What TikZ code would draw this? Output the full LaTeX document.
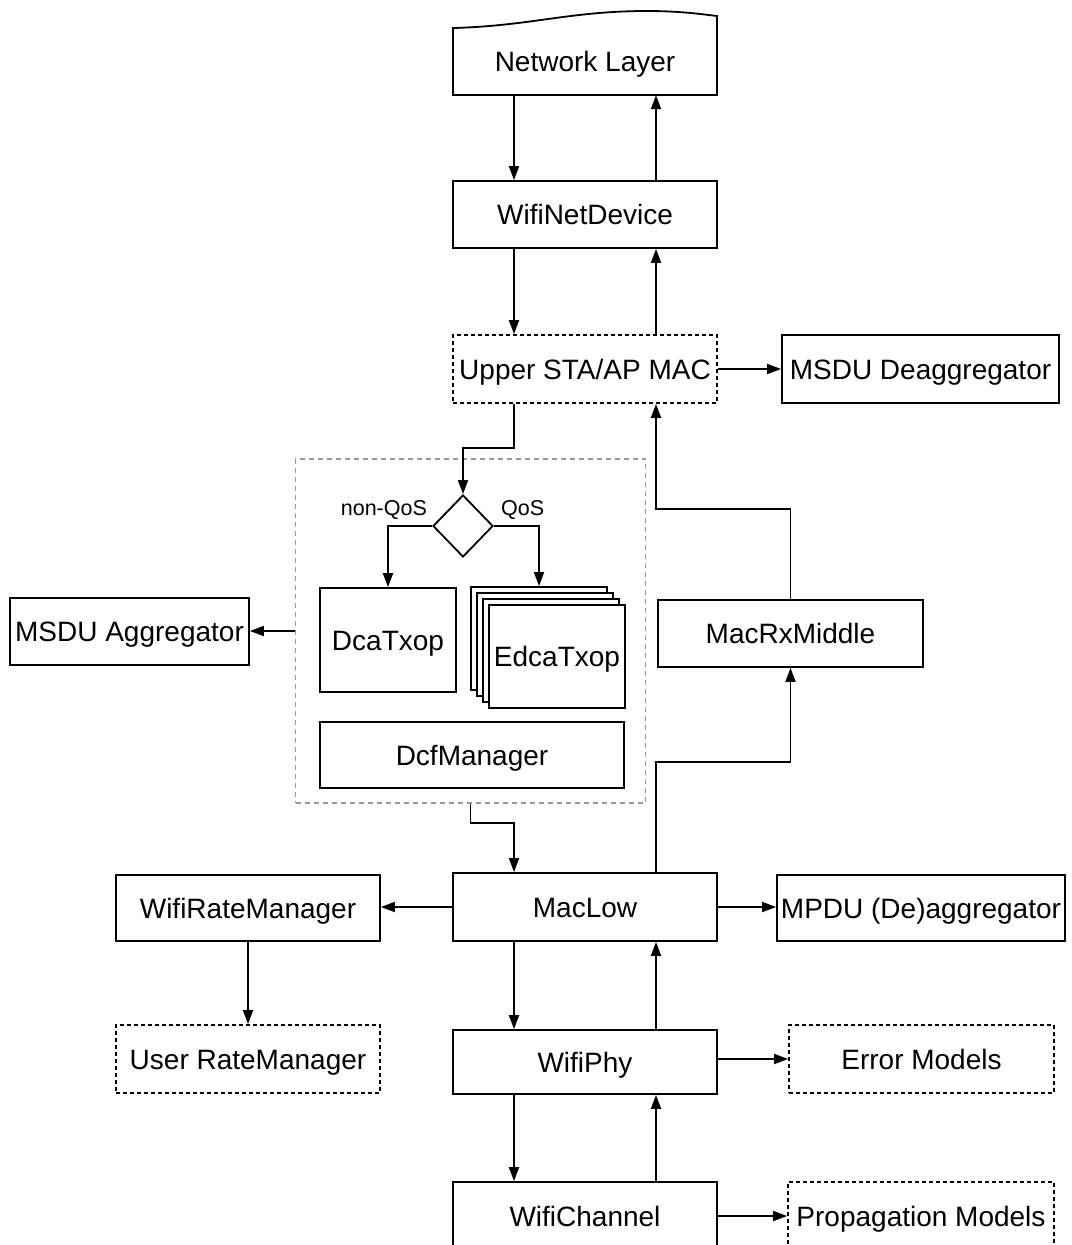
\documentclass[tikz,border=0pt]{standalone}
\usepackage{fontspec}
\setmainfont{Liberation Sans}
\usetikzlibrary{arrows.meta,shapes.geometric,calc}

\begin{document}
\begin{tikzpicture}[x=1pt,y=-1pt,
  every node/.style={font=\fontsize{28}{32}\selectfont},
  box/.style={draw, line width=1.8pt, rectangle, inner sep=0pt, fill=white, text height=20pt, text depth=0pt},
  dbox/.style={box, dash pattern=on 4pt off 3pt},
  lbl/.style={font=\fontsize{21.5}{24}\selectfont, inner sep=0pt},
  conn/.style={line width=1.8pt, -{Triangle[length=14pt,width=10pt]}},
  group/.style={draw=gray!80, line width=1.5pt, dash pattern=on 5pt off 4pt, inner sep=0pt}
]
\clip (0,0) rectangle (1071,1245);
\useasboundingbox (0,0) rectangle (1071,1245);

% network layer (document-shaped outline with wavy top)
\node[inner sep=0pt, minimum width=264pt, minimum height=67pt, text height=20pt, text depth=0pt] (net) at (585,61.5) {Network Layer};
\draw[line width=1.8pt] (453,95) -- (453,28)
  .. controls (530,26) and (570,11) .. (647,11)
  .. controls (680,11) and (700,14) .. (717,16) -- (717,95) -- cycle;

% main column
\node[box, minimum width=264pt, minimum height=67pt] (wnd) at (585,214.5) {WifiNetDevice};
\node[dbox, minimum width=264pt, minimum height=68pt] (upper) at (585,369) {Upper STA/AP MAC};
\node[box, minimum width=277pt, minimum height=68pt] (deagg) at (920.5,369) {MSDU Deaggregator};

% channel access group
\node[group, minimum width=350pt, minimum height=344pt] (grp) at (470.5,631) {};
\node[draw, line width=1.8pt, shape=diamond, inner sep=0pt, minimum width=60pt, minimum height=62pt] (diam) at (463,526) {};
\node[lbl, anchor=south east] at ([xshift=-5pt,yshift=6pt]diam.west) {non-QoS};
\node[lbl, anchor=south west] at ([xshift=7pt,yshift=6pt]diam.east) {QoS};
\node[box, minimum width=136pt, minimum height=104pt] (dca) at (388,640) {DcaTxop};
\node[box, minimum width=136pt, minimum height=103pt] (e3) at (539,638.5) {};
\node[box, minimum width=136pt, minimum height=103pt] (e2) at (545,644.5) {};
\node[box, minimum width=136pt, minimum height=103pt] (e1) at (551,650.5) {};
\node[box, minimum width=136pt, minimum height=103pt] (edca) at (557,656.5) {EdcaTxop};
\node[box, minimum width=304pt, minimum height=66pt] (dcf) at (472,755) {DcfManager};
\node[box, minimum width=239pt, minimum height=67pt] (agg) at (129.5,631.5) {MSDU Aggregator};

\node[box, minimum width=265pt, minimum height=67pt] (rxmid) at (790.5,633.5) {MacRxMiddle};

% lower layers
\node[box, minimum width=264pt, minimum height=68pt] (maclow) at (585,907) {MacLow};
\node[box, minimum width=264pt, minimum height=66pt] (rate) at (248,908) {WifiRateManager};
\node[box, minimum width=288pt, minimum height=66pt] (mpdu) at (921,908) {MPDU (De)aggregator};
\node[dbox, minimum width=264pt, minimum height=68pt] (user) at (248,1059) {User RateManager};
\node[box, minimum width=264pt, minimum height=64pt] (phy) at (585,1062) {WifiPhy};
\node[dbox, minimum width=265pt, minimum height=68pt] (err) at (921.5,1059) {Error Models};
\node[box, minimum width=264pt, minimum height=68pt] (chan) at (585,1216) {WifiChannel};
\node[dbox, minimum width=266pt, minimum height=68pt] (prop) at (921,1216) {Propagation Models};

% vertical data paths
\draw[conn] ([xshift=-71pt]net.south) -- ([xshift=-71pt]wnd.north);
\draw[conn] ([xshift=71pt]wnd.north) -- ([xshift=71pt]net.south);
\draw[conn] ([xshift=-71pt]wnd.south) -- ([xshift=-71pt]upper.north);
\draw[conn] ([xshift=71pt]upper.north) -- ([xshift=71pt]wnd.south);
\draw[conn] (upper.east) -- (deagg.west);

\draw[conn] ([xshift=-71pt]upper.south) -- ++(0,44) -| (diam.north);
\draw[conn] (diam.west) -| (dca.north);
\draw[conn] (diam.east) -| (e3.north);
\draw[conn] (grp.west) -- (grp.west -| agg.east);
\draw[conn] (grp.south) -- ++(0,19) -| ([xshift=-71pt]maclow.north);

\draw[conn] ([xshift=71pt]maclow.north) -- ++(0,-110) -| (rxmid.south);
\draw[conn] (rxmid.north) -- ++(0,-90) -| ([xshift=71pt]upper.south);

\draw[conn] (maclow.west) -- (maclow.west -| rate.east);
\draw[conn] (maclow.east) -- (maclow.east -| mpdu.west);
\draw[conn] (rate.south) -- (user.north);

\draw[conn] ([xshift=-71pt]maclow.south) -- ([xshift=-71pt]phy.north);
\draw[conn] ([xshift=71pt]phy.north) -- ([xshift=71pt]maclow.south);
\draw[conn] (err.west -| phy.east) -- (err.west);

\draw[conn] ([xshift=-71pt]phy.south) -- ([xshift=-71pt]chan.north);
\draw[conn] ([xshift=71pt]chan.north) -- ([xshift=71pt]phy.south);
\draw[conn] (chan.east) -- (prop.west);
\end{tikzpicture}
\end{document}
